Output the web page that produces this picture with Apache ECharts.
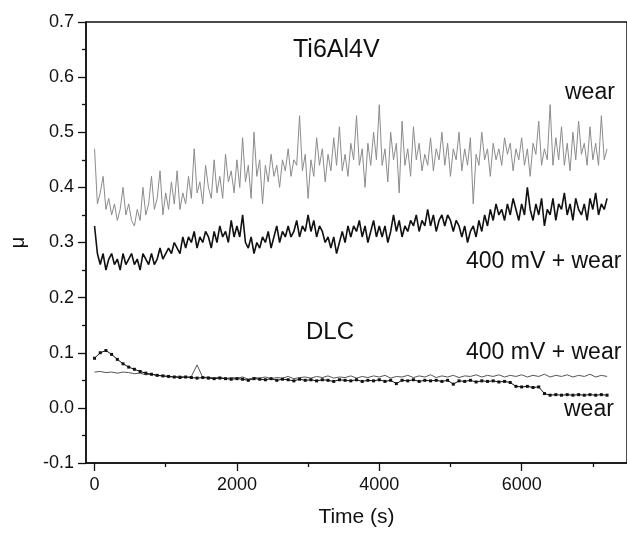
<!DOCTYPE html>
<html>
<head>
<meta charset="utf-8">
<script src="https://cdn.jsdelivr.net/npm/echarts@6/dist/echarts.min.js"></script>
<style>
  html, body { margin: 0; padding: 0; background: #fff; }
  #chart { width: 627px; height: 535px; }
</style>
</head>
<body>
<div id="chart"></div>
<script>
const TI_STEP = 40;
const DLC_STEP = 80;

// Ti6Al4V, wear only (grey)
const tiWear = [
  0.47, 0.37, 0.39, 0.42, 0.36, 0.38, 0.35, 0.37, 0.34, 0.36, 0.40, 0.35, 0.37, 0.34, 0.33, 0.36, 0.34, 0.40, 0.35, 0.37, 0.42, 0.36, 0.38, 0.43, 0.35, 0.39,
  0.36, 0.41, 0.37, 0.43, 0.36, 0.39, 0.37, 0.42, 0.38, 0.47, 0.39, 0.41, 0.37, 0.44, 0.40, 0.38, 0.45, 0.39, 0.42, 0.38, 0.46, 0.41, 0.43, 0.39, 0.45,
  0.40, 0.49, 0.41, 0.44, 0.38, 0.50, 0.42, 0.45, 0.37, 0.44, 0.41, 0.46, 0.42, 0.44, 0.40, 0.45, 0.43, 0.47, 0.42, 0.45, 0.44, 0.53, 0.43, 0.46, 0.38,
  0.45, 0.42, 0.49, 0.44, 0.47, 0.41, 0.46, 0.43, 0.49, 0.44, 0.51, 0.43, 0.46, 0.42, 0.48, 0.45, 0.53, 0.44, 0.47, 0.40, 0.48, 0.44, 0.50, 0.45, 0.55,
  0.44, 0.47, 0.41, 0.50, 0.45, 0.48, 0.39, 0.52, 0.44, 0.47, 0.42, 0.51, 0.45, 0.48, 0.43, 0.46, 0.44, 0.49, 0.43, 0.47, 0.45, 0.50, 0.44, 0.48, 0.42,
  0.47, 0.45, 0.50, 0.43, 0.47, 0.44, 0.49, 0.37, 0.46, 0.44, 0.50, 0.45, 0.47, 0.42, 0.48, 0.45, 0.47, 0.44, 0.49, 0.46, 0.48, 0.43, 0.47, 0.45, 0.49,
  0.44, 0.47, 0.42, 0.48, 0.46, 0.52, 0.44, 0.47, 0.45, 0.55, 0.44, 0.49, 0.45, 0.51, 0.44, 0.48, 0.43, 0.50, 0.45, 0.52, 0.46, 0.48, 0.44, 0.51, 0.45,
  0.48, 0.44, 0.53, 0.45, 0.47
];

// Ti6Al4V, 400 mV + wear (black)
const tiAnodic = [
  0.33, 0.28, 0.26, 0.28, 0.25, 0.27, 0.28, 0.26, 0.27, 0.25, 0.28, 0.26, 0.27, 0.28, 0.26, 0.27, 0.25, 0.28, 0.27, 0.26, 0.28, 0.26, 0.27, 0.29, 0.27, 0.28,
  0.29, 0.28, 0.30, 0.29, 0.28, 0.31, 0.29, 0.31, 0.30, 0.32, 0.29, 0.31, 0.30, 0.32, 0.31, 0.29, 0.32, 0.30, 0.33, 0.31, 0.32, 0.30, 0.34, 0.31, 0.33,
  0.31, 0.35, 0.30, 0.29, 0.31, 0.28, 0.30, 0.29, 0.31, 0.30, 0.32, 0.29, 0.31, 0.33, 0.30, 0.32, 0.31, 0.33, 0.31, 0.32, 0.34, 0.31, 0.33, 0.32, 0.35,
  0.32, 0.34, 0.31, 0.33, 0.32, 0.30, 0.31, 0.29, 0.31, 0.28, 0.30, 0.32, 0.30, 0.33, 0.31, 0.33, 0.32, 0.34, 0.31, 0.33, 0.30, 0.32, 0.34, 0.31, 0.33,
  0.31, 0.33, 0.30, 0.32, 0.35, 0.32, 0.34, 0.31, 0.33, 0.32, 0.34, 0.33, 0.35, 0.32, 0.34, 0.33, 0.36, 0.33, 0.35, 0.32, 0.34, 0.35, 0.33, 0.35, 0.34,
  0.32, 0.34, 0.33, 0.31, 0.33, 0.30, 0.32, 0.33, 0.31, 0.34, 0.32, 0.35, 0.33, 0.36, 0.34, 0.37, 0.35, 0.36, 0.34, 0.37, 0.35, 0.38, 0.36, 0.34, 0.37,
  0.35, 0.40, 0.36, 0.34, 0.37, 0.35, 0.38, 0.33, 0.36, 0.35, 0.38, 0.34, 0.37, 0.36, 0.39, 0.35, 0.37, 0.34, 0.38, 0.36, 0.35, 0.37, 0.34, 0.38, 0.36,
  0.39, 0.35, 0.37, 0.36, 0.38
];

// DLC, 400 mV + wear
const dlcAnodic = [
  0.065, 0.066, 0.064, 0.065, 0.063, 0.065, 0.064, 0.062, 0.063, 0.060, 0.061, 0.059, 0.058,
  0.057, 0.056, 0.058, 0.055, 0.057, 0.078, 0.055, 0.056, 0.054, 0.056, 0.053, 0.055, 0.054,
  0.056, 0.052, 0.055, 0.054, 0.056, 0.053, 0.055, 0.054, 0.057, 0.053, 0.055, 0.056, 0.054,
  0.057, 0.055, 0.058, 0.054, 0.056, 0.055, 0.058, 0.054, 0.057, 0.055, 0.058, 0.056, 0.059,
  0.054, 0.057, 0.056, 0.059, 0.055, 0.058, 0.056, 0.060, 0.055, 0.058, 0.056, 0.059, 0.055,
  0.058, 0.057, 0.060, 0.056, 0.059, 0.057, 0.060, 0.056, 0.059, 0.057, 0.060, 0.056, 0.059,
  0.057, 0.061, 0.056, 0.059, 0.057, 0.060, 0.056, 0.059, 0.057, 0.061, 0.056, 0.059, 0.057
];

// DLC, wear only
const dlcWear = [
  0.090, 0.100, 0.104, 0.097, 0.088, 0.080, 0.074, 0.070, 0.066, 0.063, 0.061, 0.059, 0.058,
  0.057, 0.056, 0.055, 0.056, 0.055, 0.054, 0.055, 0.054, 0.053, 0.054, 0.053, 0.052, 0.053,
  0.052, 0.050, 0.053, 0.052, 0.051, 0.053, 0.050, 0.052, 0.051, 0.049, 0.052, 0.050, 0.051,
  0.049, 0.051, 0.050, 0.048, 0.051, 0.050, 0.049, 0.051, 0.048, 0.050, 0.049, 0.051, 0.048,
  0.050, 0.044, 0.050, 0.049, 0.051, 0.048, 0.050, 0.049, 0.050, 0.048, 0.050, 0.043, 0.049,
  0.048, 0.050, 0.047, 0.049, 0.048, 0.049, 0.047, 0.048, 0.046, 0.039, 0.038, 0.039, 0.037,
  0.038, 0.026, 0.023, 0.024, 0.023, 0.024, 0.023, 0.024, 0.023, 0.024, 0.023, 0.024, 0.023
];

const xMajor = [0, 2000, 4000, 6000];
const xMinor = [1000, 3000, 5000, 7000];

const FONT = '"Liberation Sans", Arial, Helvetica, sans-serif';

const toPairs = (vals, step) => vals.map((v, i) => [i * step, v]);

const chart = echarts.init(document.getElementById('chart'));

const xBase = {
    type: 'value',
    min: -120,
    max: 7480,
    splitLine: { show: false },
}

chart.setOption({
    animation: false,
    backgroundColor: '#fff',
    grid: {
        left: 86,
        top: 22,
        right: -3,
        bottom: 72,
        show: true,
        borderColor: '#111',
        borderWidth: 1.5,
    },
    xAxis: [
        {
            ...xBase,
            name: 'Time (s)',
            nameLocation: 'middle',
            nameGap: 44,
            nameTextStyle: { fontFamily: FONT, fontSize: 21, color: '#111' },
            axisLine: { show: true, onZero: false, lineStyle: { color: '#111', width: 1.5 } },
            axisTick: { customValues: xMajor, length: 8, lineStyle: { color: '#111', width: 1.3 } },
            axisLabel: {
                customValues: xMajor,
                margin: 13,
                fontFamily: FONT,
                fontSize: 18,
                color: '#111',
                formatter: v => String(v),
            },
        },
        {
            ...xBase,
            position: 'bottom',
            axisLine: { show: false, onZero: false },
            axisTick: { customValues: xMinor, length: 4, lineStyle: { color: '#111', width: 1.3 } },
            axisLabel: { show: false },
        }
    ],
    yAxis: {
        type: 'value',
        min: -0.1,
        max: 0.7,
        interval: 0.1,
        name: 'μ',
        nameLocation: 'middle',
        nameGap: 58,
        nameRotate: 90,
        nameTextStyle: { fontFamily: FONT, fontSize: 20, color: '#111' },
        splitLine: { show: false },
        axisLine: { show: true, onZero: false, lineStyle: { color: '#111', width: 1.5 } },
        axisTick: { length: 8, lineStyle: { color: '#111', width: 1.3 } },
        minorTick: { show: true, splitNumber: 2, length: 4, lineStyle: { color: '#111', width: 1.3 } },
        axisLabel: {
            margin: 12,
            fontFamily: FONT,
            fontSize: 18,
            color: '#111',
            formatter: v => v.toFixed(1),
        },
    },
    series: [
        {
            name: 'Ti6Al4V wear',
            type: 'line',
            data: toPairs(tiWear, TI_STEP),
            showSymbol: false,
            lineStyle: { color: '#8c8c8c', width: 1 },
        },
        {
            name: 'Ti6Al4V 400 mV + wear',
            type: 'line',
            data: toPairs(tiAnodic, TI_STEP),
            showSymbol: false,
            lineStyle: { color: '#111', width: 1.6 },
        },
        {
            name: 'DLC 400 mV + wear',
            type: 'line',
            data: toPairs(dlcAnodic, DLC_STEP),
            showSymbol: false,
            lineStyle: { color: '#555', width: 1 },
        },
        {
            name: 'DLC wear',
            type: 'line',
            data: toPairs(dlcWear, DLC_STEP),
            symbol: 'rect',
            symbolSize: 3,
            itemStyle: { color: '#111' },
            lineStyle: { color: '#111', width: 1 },
        },
    ],
    graphic: [
        { type: 'text', x: 293, y: 50, style: { text: 'Ti6Al4V', font: '25px ' + FONT, fill: '#111', verticalAlign: 'middle' } },
        { type: 'text', x: 565, y: 93, style: { text: 'wear', font: '23px ' + FONT, fill: '#111', verticalAlign: 'middle' } },
        { type: 'text', x: 466, y: 262, style: { text: '400 mV + wear', font: '23px ' + FONT, fill: '#111', verticalAlign: 'middle' } },
        { type: 'text', x: 306, y: 332, style: { text: 'DLC', font: '24px ' + FONT, fill: '#111', verticalAlign: 'middle' } },
        { type: 'text', x: 466, y: 353, style: { text: '400 mV + wear', font: '23px ' + FONT, fill: '#111', verticalAlign: 'middle' } },
        { type: 'text', x: 564, y: 410, style: { text: 'wear', font: '23px ' + FONT, fill: '#111', verticalAlign: 'middle' } },
    ],
})
</script>
</body>
</html>
